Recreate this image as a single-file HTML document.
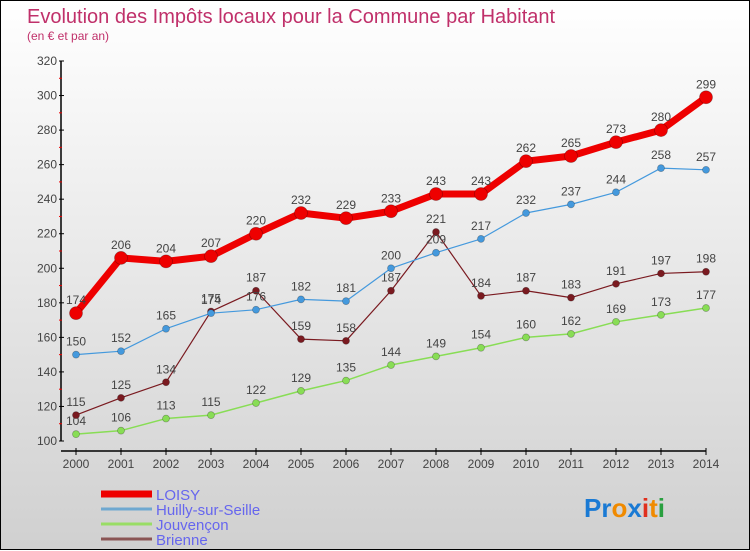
<!DOCTYPE html>
<html><head><meta charset="utf-8"><style>
html,body{margin:0;padding:0;}
body{width:750px;height:550px;overflow:hidden;font-family:"Liberation Sans",sans-serif;}
#wrap{position:relative;width:748px;height:548px;border:1px solid #000;background:linear-gradient(#ffffff,#d0d0d0);}
svg{position:absolute;left:0;top:0;}
</style></head><body>
<div id="wrap">
<svg id="chart" width="750" height="550">
<text x="26" y="22" font-size="20" fill="#c0306a">Evolution des Impôts locaux pour la Commune par Habitant</text>
<text x="26" y="39" font-size="12" fill="#c0306a">(en € et par an)</text>
</svg>
</div>
<script>
const years=[2000,2001,2002,2003,2004,2005,2006,2007,2008,2009,2010,2011,2012,2013,2014];
const loisy=[174,206,204,207,220,232,229,233,243,243,262,265,273,280,299];
const huilly=[150,152,165,174,176,182,181,200,209,217,232,237,244,258,257];
const jouvencon=[104,106,113,115,122,129,135,144,149,154,160,162,169,173,177];
const brienne=[115,125,134,175,187,159,158,187,221,184,187,183,191,197,198];
const yTicks=[100,120,140,160,180,200,220,240,260,280,300,320];
const NS='http://www.w3.org/2000/svg';
const svg=document.getElementById('chart');
const x=i=>75+i*45;
const y=v=>440-(v-100)*380/220;
function mk(t,a,p){const e=document.createElementNS(NS,t);for(const k in a)e.setAttribute(k,a[k]);(p||svg).appendChild(e);return e;}
// axes
let ya=mk('line',{x1:60,y1:60,x2:60,y2:440,stroke:'#000','stroke-width':1.5});


let xa=mk('line',{x1:60,y1:450,x2:705,y2:450,stroke:'#000','stroke-width':1.5});


yTicks.forEach(v=>{
  mk('line',{x1:58,y1:y(v),x2:63,y2:y(v),stroke:'#000'});
  let t=mk('text',{x:56,y:y(v)+4,'font-size':12,fill:'#444','text-anchor':'end'});t.textContent=v;
  
  
  if(v<320)mk('line',{x1:58,y1:y(v+10),x2:61,y2:y(v+10),stroke:'#e00'});
});
years.forEach((yr,i)=>{
  mk('line',{x1:x(i),y1:447,x2:x(i),y2:454,stroke:'#000'});
  let t=mk('text',{x:x(i),y:467,'font-size':12,fill:'#444','text-anchor':'middle'});t.textContent=yr;
  
  
});
function series(arr,color,w,r,name){
  const g=mk('g',{});
  
  
  mk('polyline',{points:arr.map((v,i)=>x(i)+','+y(v)).join(' '),fill:'none',stroke:color,'stroke-width':w,'stroke-linejoin':'round'},g);
  arr.forEach((v,i)=>{
    const c=mk('circle',{cx:x(i),cy:y(v),r:r,fill:color,stroke:'rgba(0,0,0,0.3)','stroke-width':0.7},g);
    
    
    const t=mk('text',{x:x(i),y:y(v)-9,'font-size':12,fill:'#444','text-anchor':'middle'},g);t.textContent=v;
    
    
  });
}
series(jouvencon,'#88dd55',1.5,3.5,'jouvencon');
series(brienne,'#7a1a20',1.2,3.5,'brienne');
series(huilly,'#4499dd',1.2,3.5,'huilly');
series(loisy,'#ee0000',7,6.5,'loisy');
// legend
const leg=[['LOISY','#ee0000',7],['Huilly-sur-Seille','#6fa8d0',3],['Jouvençon','#99dd66',3],['Brienne','#8a5555',3]];
leg.forEach((l,i)=>{
  const yy=493+i*15;
  const g=mk('g',{});
  
  
  mk('line',{x1:100,y1:yy,x2:151,y2:yy,stroke:l[1],'stroke-width':l[2]},g);
  const t=mk('text',{x:155,y:yy+6,'font-size':15,fill:'#6666ee'},g);t.textContent=l[0];
});
// logo
const lg=mk('text',{x:583,y:516,'font-size':26,'font-weight':'bold'});


[['Pr','#1a7ad4'],['o','#f08a00'],['x','#1a7ad4'],['i','#e0301e'],['t','#f08a00'],['i','#2aa040']].forEach(p=>{const s=mk('tspan',{fill:p[1]},lg);s.textContent=p[0];});
</script>
</body></html>
